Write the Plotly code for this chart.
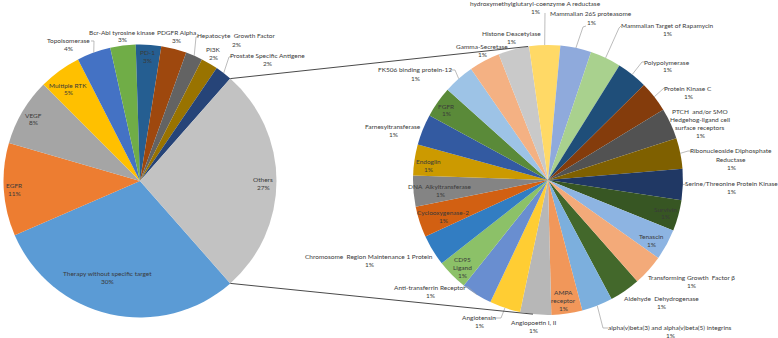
import math
import plotly.graph_objects as go

W, H = 778, 338

# ---------------- data ----------------
main_labels = ["Therapy without specific target", "EGFR", "VEGF", "Multiple RTK", "Topoisomerase",
               "Bcr-Abl tyrosine kinase", "PD-1", "PDGFR Alpha", "Hepatocyte  Growth Factor", "PI3K",
               "Prostate Specific Antigene", "Others"]
main_values = [30, 11, 8, 5, 4, 3, 3, 3, 2, 2, 2, 27]

other_labels = ["Aldehyde  Dehydrogenase", "alpha(v)beta(3) and alpha(v)beta(5) integrins",
                "AMPA<br>receptor", "Angiopoetin I, II", "Angiotensin", "Anti-transferrin Receptor",
                "CD95<br>Ligand", "Chromosome  Region Maintenance 1 Protein", "Cyclooxygenase-2",
                "DNA  Alkyltransferase", "Endoglin", "Farnesyltransferase", "FGFR",
                "FK506 binding protein-12", "Gamma-Secretase", "Histone Deacetylase",
                "hydroxymethylglutaryl-coenzyme A reductase", "Mammalian 26S proteasome",
                "Mammalian Target of Rapamycin", "Polypolymerase", "Protein Kinase C",
                "PTCH  and/or SMO<br>Hedgehog-ligand cell<br>surface receptors",
                "Ribonucleoside Diphosphate<br>Reductase", "Serine/Threonine Protein Kinase",
                "Survivin", "Tenascin", "Transforming Growth  Factor β"]
other_values = [1, 1, 1, 1, 1, 1, 1, 1, 1, 1, 1, 1, 1, 1, 1, 1, 1, 1, 1, 1, 1, 1, 1, 1, 1, 1, 1]

# ---------------- styles ----------------
main_colors = ["#5B9BD5", "#ED7D31", "#A5A5A5", "#FFC000", "#4472C4", "#70AD47",
               "#255E91", "#9E480E", "#636363", "#997300", "#264478", "#C2C2C2"]
other_colors = ["#43682B", "#7CAFDD", "#F1975A", "#B7B7B7", "#FFCD33", "#698ED0",
                "#8CC168", "#327DC2", "#D26012", "#848484", "#CC9A00", "#335AA1",
                "#5A8A39", "#9DC3E6", "#F4B183", "#C9C9C9", "#FFD966", "#8FAADC",
                "#A9D18E", "#1F4E79", "#843C0C", "#525252", "#7F6000", "#203864",
                "#375623", "#8DB4E2", "#F3AA79"]

TXT = "#3A3A3A"
FONT = "Lato, Liberation Sans, Arial, sans-serif"
FS = 6.5
LINE_H = 8

# pie geometry (pixels)
L_CX, L_CY, L_R = 140, 181, 136.5
R_CX, R_CY, R_R = 548, 180, 135

others_share = main_values[-1] / sum(main_values)
rotation = 90 + others_share * 360 / 2  # "Others" slice centred at 3 o'clock


def domain(cx, cy, r):
    return dict(x=[(cx - r) / W, (cx + r) / W], y=[1 - (cy + r) / H, 1 - (cy - r) / H])


def px(x, y):
    return x / W, 1 - y / H


def mid_angles(values, rot):
    tot = sum(values)
    out, acc = [], 0
    for v in values:
        out.append(rot + (acc + v / 2) / tot * 360)
        acc += v
    return out


def rim(cx, cy, r, ang):
    a = math.radians(ang)
    return cx + r * math.sin(a), cy - r * math.cos(a)


fig = go.Figure()
fig.add_trace(go.Pie(labels=main_labels, values=main_values, sort=False, direction="clockwise",
                     rotation=rotation, textinfo="none", hoverinfo="label+percent",
                     marker=dict(colors=main_colors, line=dict(width=0)),
                     domain=domain(L_CX, L_CY, L_R), showlegend=False))
fig.add_trace(go.Pie(labels=other_labels, values=other_values, sort=False, direction="clockwise",
                     rotation=rotation, textinfo="none", hoverinfo="label+value",
                     marker=dict(colors=other_colors, line=dict(width=0)),
                     domain=domain(R_CX, R_CY, R_R), showlegend=False))

# label block centres (pixels)
main_pos = [(107, 277), (14, 189), (33, 119), (68, 89), (68, 44.5), (122, 36), (147, 56.5),
            (176, 37), (236, 40), (213, 54), (267.5, 60), (263, 183)]
other_pos = [(661, 302), (670, 331.5), (563, 300), (533, 326.5), (479, 321.5), (430, 291.5),
             (462, 267), (369, 260), (443, 216.5), (440, 190), (428, 165), (393, 130),
             (446, 110), (415, 74), (482, 50.5), (512, 37.5), (535, 8), (591, 18),
             (667, 30), (667, 66), (688, 92.5), (700, 123.5), (731, 159), (731, 187.5),
             (665, 213), (651, 240), (691, 281)]

annotations = []


def add_label(text, value, pos):
    lines = text.split("<br>") + [f"{value}%"]
    n = len(lines)
    for k, ln in enumerate(lines):
        y = pos[1] + (k - (n - 1) / 2) * LINE_H
        x0, y0 = px(pos[0], y)
        annotations.append(dict(x=x0, y=y0, xref="paper", yref="paper", text=ln, showarrow=False,
                                xanchor="center", yanchor="middle",
                                font=dict(family=FONT, size=FS, color=TXT)))


for t, v, p in zip(main_labels, main_values, main_pos):
    add_label(t, v, p)
for t, v, p in zip(other_labels, other_values, other_pos):
    add_label(t, v, p)

shapes = []


def path(points, color, width):
    d = ""
    for i, (x, y) in enumerate(points):
        xx, yy = px(x, y)
        d += ("M" if i == 0 else " L") + f"{xx:.5f},{yy:.5f}"
    shapes.append(dict(type="path", path=d, xref="paper", yref="paper",
                       line=dict(color=color, width=width)))


# leader lines: label-side points, ending at the slice rim
main_mid = mid_angles(main_values, rotation)
other_mid = mid_angles(other_values, rotation)
main_leaders = {4: [(91, 41), (94, 41)], 8: [(199, 36), (196, 37)], 10: [(232, 56), (229, 57)]}
other_leaders = {13: [(450, 70), (455, 70)], 16: [(545, 13)], 17: [(586, 26), (583, 27)],
                 18: [(621, 26), (619, 28)], 19: [(645, 62), (642, 62)], 20: [(667, 88), (664, 88)],
                 22: [(692, 151), (688, 151)], 23: [(687, 184)], 1: [(608, 328), (603, 328)],
                 4: [(494, 318), (501, 318)], 5: [(463, 287), (468, 287)]}
for i, pts in main_leaders.items():
    path(pts + [rim(L_CX, L_CY, L_R, main_mid[i])], "#A6A6A6", 0.75)
for i, pts in other_leaders.items():
    path(pts + [rim(R_CX, R_CY, R_R, other_mid[i])], "#A6A6A6", 0.75)

# connector lines between the two pies
others_start = rotation + (1 - others_share) * 360
path([rim(L_CX, L_CY, L_R, others_start), rim(R_CX, R_CY, R_R, -8.5)], "#4A4A4A", 1)
path([rim(L_CX, L_CY, L_R, rotation), rim(R_CX, R_CY, R_R, 186.4)], "#4A4A4A", 1)

fig.update_layout(width=W, height=H, margin=dict(l=0, r=0, t=0, b=0),
                  paper_bgcolor="white", plot_bgcolor="white", showlegend=False,
                  annotations=annotations, shapes=shapes)
fig.write_html("out.html", config={"displayModeBar": False},
               post_script="document.body.style.margin='0';document.body.style.overflow='hidden';")
